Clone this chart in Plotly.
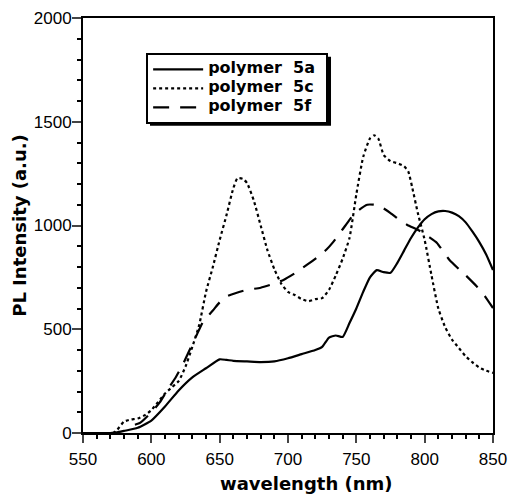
import plotly.graph_objects as go

# polymer 5a (solid)
wl_5a = [550, 560, 570, 575, 580, 590, 600, 610, 620, 630, 640, 650, 655, 660, 670, 680, 690, 700,
         710, 720, 725, 730, 735, 740, 745, 750, 755, 760, 765, 770, 775, 780, 785, 790, 795, 800,
         805, 810, 815, 820, 825, 830, 835, 840, 845, 850]
pl_5a = [0, 0, 0, 3, 10, 25, 60, 128, 205, 268, 312, 355, 352, 348, 345, 342, 345, 360,
         380, 400, 415, 460, 470, 463, 530, 600, 680, 750, 785, 775, 772, 820, 880, 940, 990, 1030,
         1055, 1068, 1070, 1062, 1045, 1015, 970, 920, 860, 785]

# polymer 5c (dotted)
wl_5c = [550, 565, 572, 575, 580, 585, 590, 595, 600, 605, 610, 615, 620, 625, 630, 635, 640, 645,
         650, 655, 660, 663, 667, 670, 675, 680, 685, 690, 695, 700, 705, 710, 715, 720, 725, 730,
         735, 740, 745, 750, 755, 760, 763, 766, 770, 775, 780, 785, 788, 791, 795, 800, 805, 810,
         815, 820, 825, 830, 835, 840, 845, 850]
pl_5c = [0, 0, 0, 15, 55, 65, 70, 85, 110, 150, 190, 220, 250, 320, 415, 520, 680, 800,
         930, 1050, 1180, 1228, 1225, 1205, 1120, 1000, 880, 790, 720, 680, 665, 645, 635, 645, 650, 690,
         760, 840, 940, 1150, 1330, 1420, 1435, 1420, 1340, 1310, 1300, 1285, 1260, 1180, 1060, 930, 760, 600,
         510, 450, 410, 370, 340, 315, 300, 290]

# polymer 5f (dashed)
wl_5f = [588, 592, 600, 606, 612, 618, 623, 628, 633, 638, 645, 650, 655, 662, 670, 680, 690, 697,
         705, 714, 721, 728, 733, 738, 742, 747, 752, 758, 763, 768, 775, 781, 787, 797, 803, 809,
         813, 818, 825, 830, 838, 844, 850]
pl_5f = [40, 50, 100, 146, 210, 270, 330, 400, 470, 538, 590, 630, 658, 675, 690, 700, 720, 739,
         770, 811, 845, 883, 920, 964, 1000, 1044, 1075, 1100, 1100, 1090, 1060, 1030, 1004, 972, 945, 916,
         880, 835, 790, 760, 707, 660, 602]

series_names = ["polymer\u00a0 5a", "polymer\u00a0 5c", "polymer\u00a0 5f"]
x_ticks = [550, 600, 650, 700, 750, 800, 850]
y_ticks = [0, 500, 1000, 1500, 2000]
x_title = "wavelength (nm)"
y_title = "PL Intensity (a.u.)"

TICKFONT = "Liberation Sans, Arial, Helvetica, sans-serif"
BOLDFONT = "DejaVu Sans, Verdana, sans-serif"


def legend_label(s):
    return "<span style='font-size:16px'><b>" + s + "\u00a0</b></span>"


fig = go.Figure()
fig.add_trace(go.Scatter(x=wl_5a, y=pl_5a, mode="lines", name=legend_label(series_names[0]),
                         line=dict(color="black", width=2.2, dash="solid", shape="spline", smoothing=0.5)))
fig.add_trace(go.Scatter(x=wl_5c, y=pl_5c, mode="lines", name=legend_label(series_names[1]),
                         line=dict(color="black", width=2.2, dash="dot", shape="spline", smoothing=0.5)))
fig.add_trace(go.Scatter(x=wl_5f, y=pl_5f, mode="lines", name=legend_label(series_names[2]),
                         line=dict(color="black", width=2.2, dash="16px,11px", shape="spline", smoothing=0.5)))

# legend drop shadow (paper coordinates)
fig.add_shape(type="rect", xref="paper", yref="paper", layer="above",
              x0=0.1634, x1=0.6049, y0=0.7405, y1=0.9067,
              fillcolor="black", line=dict(width=0))

# x axis title, placed slightly right of centre as in the original
fig.add_annotation(text="<b>" + x_title + "</b>", xref="paper", yref="paper",
                   x=0.545, y=-0.122, xanchor="center", yanchor="middle", showarrow=False,
                   font=dict(family=BOLDFONT, size=18, color="black"))

fig.update_layout(
    width=511, height=494,
    margin=dict(l=83, r=18, t=18, b=61, autoexpand=False),
    paper_bgcolor="white", plot_bgcolor="white",
    font=dict(family=TICKFONT, size=17, color="black"),
    showlegend=True,
    legend=dict(x=0.154, y=0.916, xanchor="left", yanchor="top",
                bgcolor="white", bordercolor="black", borderwidth=2, itemwidth=50,
                font=dict(family=BOLDFONT, size=10, color="black")),
    xaxis=dict(range=[550, 850], tickvals=x_ticks, ticks="outside", ticklen=8, tickwidth=2,
               showline=True, linecolor="black", linewidth=2, mirror=True, showgrid=False, zeroline=False,
               minor=dict(dtick=10, ticks="outside", ticklen=4, tickwidth=1.5, tickcolor="black"),
               ticklabelstandoff=2,
               tickfont=dict(size=17)),
    yaxis=dict(range=[0, 2000], tickvals=y_ticks, ticks="outside", ticklen=9, tickwidth=2,
               showline=True, linecolor="black", linewidth=2, mirror=True, showgrid=False, zeroline=False,
               minor=dict(dtick=100, ticks="outside", ticklen=4, tickwidth=1.5, tickcolor="black"),
               ticklabelstandoff=-3,
               title=dict(text="<b>" + y_title + "</b>",
                          font=dict(family=BOLDFONT, size=18), standoff=2),
               tickfont=dict(size=17)),
)

fig.write_html("out.html")
